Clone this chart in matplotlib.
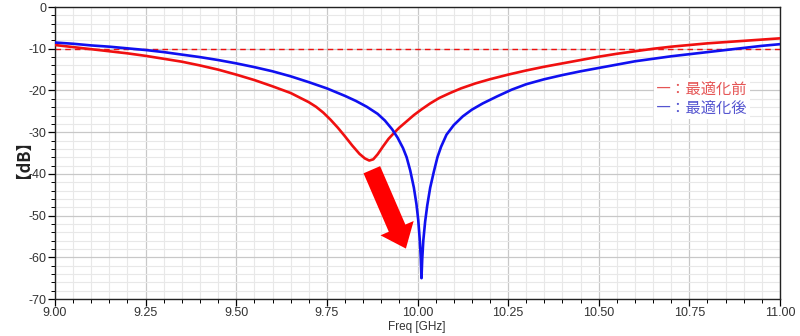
import matplotlib
matplotlib.use("Agg")
import matplotlib.pyplot as plt
from matplotlib.ticker import MultipleLocator, FormatStrFormatter

plt.rcParams['font.family'] = ['Liberation Sans', 'DejaVu Sans']
plt.rcParams['axes.unicode_minus'] = False

# 最適化前 (red)
freq_before = [9.00, 9.05, 9.10, 9.15, 9.20, 9.25, 9.30, 9.35, 9.40, 9.45, 9.50,
               9.55, 9.60, 9.65, 9.70, 9.72, 9.74, 9.76, 9.78, 9.80, 9.82, 9.84,
               9.855, 9.867, 9.878, 9.89, 9.905, 9.92, 9.935, 9.95, 9.97, 9.99,
               10.01, 10.035, 10.06, 10.09, 10.12, 10.16, 10.20, 10.25, 10.30,
               10.35, 10.40, 10.45, 10.50, 10.55, 10.60, 10.65, 10.70, 10.75,
               10.80, 10.85, 10.90, 10.95, 11.00]
db_before = [-9.1, -9.6, -10.1, -10.6, -11.1, -11.7, -12.4, -13.1, -14.0, -15.0, -16.2,
             -17.5, -19.0, -20.6, -22.8, -23.9, -25.3, -27.0, -28.9, -31.0, -33.2, -35.2,
             -36.3, -36.8, -36.5, -35.3, -33.4, -31.6, -30.2, -28.9, -27.4, -25.9,
             -24.6, -23.1, -21.8, -20.6, -19.5, -18.3, -17.3, -16.2, -15.2,
             -14.3, -13.5, -12.7, -11.9, -11.2, -10.6, -10.0, -9.5, -9.1,
             -8.7, -8.4, -8.1, -7.8, -7.5]

# 最適化後 (blue)
freq_after = [9.00, 9.05, 9.10, 9.15, 9.20, 9.25, 9.30, 9.35, 9.40, 9.45, 9.50,
              9.55, 9.60, 9.65, 9.70, 9.75, 9.80, 9.83, 9.86, 9.89, 9.91, 9.93,
              9.945, 9.96, 9.97, 9.98, 9.99, 9.997, 10.002, 10.006, 10.009, 10.011,
              10.013, 10.016, 10.021, 10.027, 10.035, 10.045, 10.055, 10.065, 10.08,
              10.10, 10.125, 10.15, 10.18, 10.22, 10.26, 10.30, 10.35, 10.40, 10.45,
              10.50, 10.55, 10.60, 10.65, 10.70, 10.75, 10.80, 10.85, 10.90, 10.95,
              11.00]
db_after = [-8.5, -8.8, -9.2, -9.5, -9.9, -10.3, -10.8, -11.4, -12.0, -12.7, -13.5,
            -14.4, -15.4, -16.6, -18.0, -19.5, -21.3, -22.5, -23.9, -25.6, -27.2, -29.3,
            -31.3, -33.8, -36.0, -39.2, -43.3, -47.2, -51.0, -55.5, -60.0, -65.0,
            -60.5, -56.0, -51.5, -47.5, -43.3, -39.5, -36.0, -33.5, -30.6,
            -28.3, -26.2, -24.6, -23.1, -21.4, -19.8, -18.5, -17.3, -16.3, -15.4,
            -14.6, -13.8, -13.0, -12.4, -11.8, -11.3, -10.8, -10.3, -9.8, -9.3,
            -8.9]

ref_level = -10

fig = plt.figure(figsize=(8, 3.36), dpi=100)
ax = fig.add_axes([0.06875, 0.110, 0.90625, 0.869])

ax.plot(freq_before, db_before, color="#f01010", lw=1.9, zorder=3)
ax.plot(freq_after, db_after, color="#1010f0", lw=1.9, zorder=4)
ax.axhline(ref_level, color="#f01010", lw=1.0, ls=(0, (4, 3)), zorder=2)

# 軸設定
ax.set_xlim(9, 11)
ax.set_ylim(-70, 0)
ax.xaxis.set_major_locator(MultipleLocator(0.25))
ax.xaxis.set_minor_locator(MultipleLocator(0.05))
ax.yaxis.set_major_locator(MultipleLocator(10))
ax.yaxis.set_minor_locator(MultipleLocator(2))
ax.xaxis.set_major_formatter(FormatStrFormatter("%.2f"))

ax.grid(which="major", color="#c8c8c8", lw=0.9, zorder=0)
ax.grid(which="minor", color="#e8e8e8", lw=0.8, zorder=0)
ax.set_axisbelow(True)

ax.tick_params(which="major", direction="out", length=5, width=0.9,
               labelsize=9, labelcolor="#333333", pad=1)
ax.tick_params(which="minor", direction="out", length=3, width=0.7)
for side in ["left", "bottom", "right", "top"]:
    ax.spines[side].set_color("#222222")
    ax.spines[side].set_linewidth(1.0)

# 矢印
ax.annotate("", xy=(9.968, -57.9), xytext=(9.874, -39.0),
            arrowprops=dict(arrowstyle="simple,head_length=1.6,head_width=2.6,tail_width=1.3",
                            color="#ff0000", lw=0, shrinkA=0, shrinkB=0,
                            mutation_scale=10), zorder=5)

# 凡例
cjk = ['Noto Sans CJK JP', 'DejaVu Sans']
ax.text(0.829, 0.719, "―：最適化前", transform=ax.transAxes, family=cjk,
        fontsize=11, color="#e55555", va="center", ha="left",
        bbox=dict(facecolor="white", edgecolor="none", pad=1.5), zorder=6)
ax.text(0.829, 0.654, "―：最適化後", transform=ax.transAxes, family=cjk,
        fontsize=11, color="#5555d0", va="center", ha="left",
        bbox=dict(facecolor="white", edgecolor="none", pad=1.5), zorder=6)

# ラベル
fig.text(0.019, 0.553, "【dB】", rotation=90, family=cjk, fontsize=12,
         fontweight="bold", ha="center", va="center", color="#222222")
fig.text(0.521, 0.027, "Freq [GHz]", fontsize=8.5, ha="center", va="center",
         color="#333333")

fig.savefig("out.png", dpi=100, facecolor="white")
